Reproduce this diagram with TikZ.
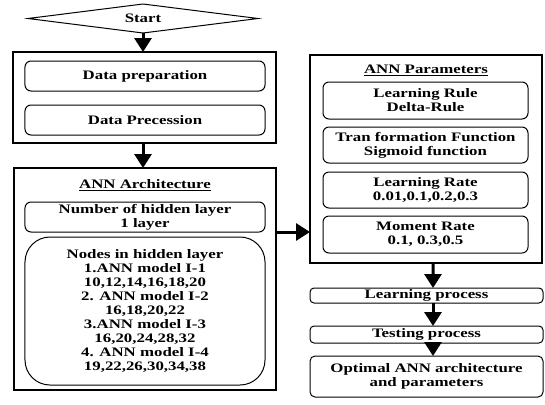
\documentclass[tikz,border=0pt]{standalone}
\usepackage{fontspec}
\setmainfont{Liberation Serif}[FakeStretch=1.3]
\usetikzlibrary{shapes.geometric,arrows.meta}
\begin{document}
\begin{tikzpicture}[x=1bp,y=-1bp,
  every node/.style={font=\bfseries\fontsize{13}{14}\selectfont, align=center, inner sep=0pt, outer sep=0pt},
  frame/.style={draw, line width=1.2bp},
  rbox/.style={draw, line width=1bp, rounded corners=6bp},
  flow/.style={line width=3bp, -{Triangle[length=14bp,width=17bp]}},
]
\useasboundingbox (0,0) rectangle (545,404);
% left column
\node[draw, line width=1bp, diamond, aspect=8, minimum width=230bp, minimum height=29bp] (start) at (143,18.5) {Start};
\node[frame, minimum width=263bp, minimum height=91bp] (box1) at (144.5,97.5) {};
\node[rbox, minimum width=240bp, minimum height=30bp] (prep) at (145,76) {Data preparation};
\node[rbox, minimum width=240bp, minimum height=30bp] (proc) at (145,120) {Data Precession};
\node[frame, minimum width=262bp, minimum height=222bp] (box2) at (145,279) {};
\node (archt) at (145,185) {\underline{ANN Architecture}};
\node[rbox, minimum width=240bp, minimum height=30bp] (hid) at (145,217) {Number of hidden layer\\1 layer};
\node[rbox, rounded corners=25bp, minimum width=240bp, minimum height=148bp] (nodes) at (145,311) {Nodes in hidden layer\\1.ANN model I-1\\10,12,14,16,18,20\\2. ANN model I-2\\16,18,20,22\\3.ANN model I-3\\16,20,24,28,32\\4. ANN model I-4\\19,22,26,30,34,38};
% right column
\node[frame, minimum width=232bp, minimum height=208bp] (box3) at (426,159) {};
\node (part) at (426,70) {\underline{ANN Parameters}};
\node[rbox, minimum width=205bp, minimum height=37bp] (lrule) at (425.5,100.5) {Learning Rule\\Delta-Rule};
\node[rbox, minimum width=205bp, minimum height=36bp] (tf) at (425.5,145) {Tran formation Function\\Sigmoid function};
\node[rbox, minimum width=205bp, minimum height=36bp] (lrate) at (425.5,190) {Learning Rate\\0.01,0.1,0.2,0.3};
\node[rbox, minimum width=205bp, minimum height=37bp] (mrate) at (425.5,234.5) {Moment Rate\\0.1, 0.3,0.5};
\node[rbox, rounded corners=4bp, minimum width=233bp, minimum height=15bp] (lp) at (426.5,295.5) {Learning process};
\node[rbox, rounded corners=4bp, minimum width=233bp, minimum height=17bp] (tp) at (426.5,334.5) {Testing process};
\node[rbox, rounded corners=5bp, minimum width=233bp, minimum height=41bp] (opt) at (426.5,376.5) {Optimal ANN architecture\\and parameters};
% connectors
\draw[flow] (start.south) -- (box1.north -| start.south);
\draw[flow] (box1.south -| start.south) -- (box2.north -| start.south);
\draw[flow] (box2.east |- 0,232) -- (box3.west |- 0,232);
\draw[flow] ([xshift=7bp]box3.south) -- ([xshift=6.5bp]lp.north);
\draw[flow] ([xshift=6.5bp]lp.south) -- ([xshift=6.5bp]tp.north);
\draw[flow] ([xshift=6.5bp]tp.south) -- ([xshift=6.5bp]opt.north);
\end{tikzpicture}
\end{document}
